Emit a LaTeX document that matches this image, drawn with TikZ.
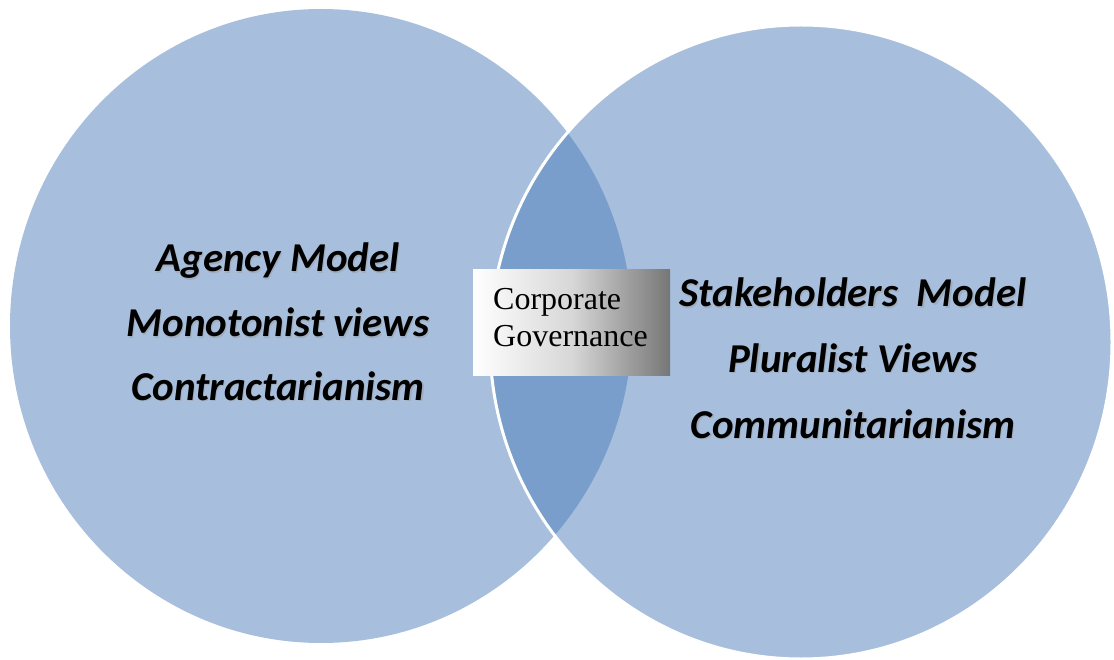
\documentclass[tikz,border=0pt]{standalone}
\usepackage{fontspec}
\setmainfont{Liberation Serif}
\newfontfamily\calfont{Carlito}
\definecolor{lightblue}{RGB}{167,191,221}
\definecolor{lensblue}{RGB}{121,158,203}
\definecolor{boxgray}{RGB}{118,118,118}
\tikzset{
  modeltext/.style={font=\calfont\bfseries\itshape\fontsize{41}{49}\selectfont, text=black, inner sep=0pt, anchor=base},
  modelshadow/.style={font=\calfont\bfseries\itshape\fontsize{41}{49}\selectfont, text=black!40, text opacity=0.45, inner sep=0pt, anchor=base},
  cgtext/.style={font=\fontsize{32}{37}\selectfont, text=black, inner sep=0pt, anchor=base west}
}
\begin{document}
\begin{tikzpicture}[x=1pt,y=-1pt]
\useasboundingbox (0,0) rectangle (1114,660);
% circles
\fill[lightblue] (321,326) ellipse [x radius=311, y radius=317];
\fill[lightblue] (801,342) ellipse [x radius=311, y radius=317];
\begin{scope}
  \clip (321,326) ellipse [x radius=311, y radius=317];
  \fill[lensblue] (801,342) ellipse [x radius=311, y radius=317];
\end{scope}
\draw[white, line width=3pt] (801,342) ellipse [x radius=311, y radius=317];
% left texts
\foreach \t/\y [count=\i] in {Agency Model/272, Monotonist views/337, Contractarianism/400}{
  \node[modelshadow] (ls\i) at (279.2,\y+1.2) {\t};
  \node[modeltext] (l\i) at (278,\y) {\t};
}
% right texts
\foreach \t/\y [count=\i] in {Stakeholders\ \ Model/307, Pluralist Views/372, Communitarianism/438}{
  \node[modelshadow] (rs\i) at (854.2,\y+1.2) {\t};
  \node[modeltext] (r\i) at (853,\y) {\t};
}
% corporate governance box
\shade[left color=white, right color=boxgray, middle color={rgb,255:red,215;green,215;blue,215}] (473,270) rectangle (670,375);
\coordinate (cg) at (571.5,322.5);
\node[cgtext] (cg1) at (493,310) {Corporate};
\node[cgtext] (cg2) at (493,347) {Governance};
\end{tikzpicture}
\end{document}
